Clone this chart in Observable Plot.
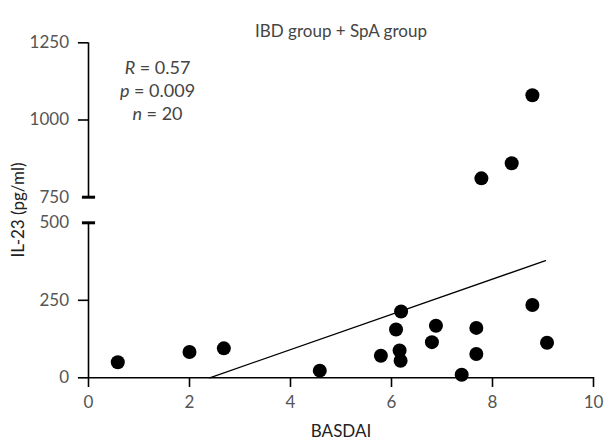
<!DOCTYPE html>
<html><head><meta charset="utf-8">
<script src="https://cdn.jsdelivr.net/npm/d3@7"></script>
<script src="https://cdn.jsdelivr.net/npm/@observablehq/plot@0.6"></script>
<style>body{margin:0;background:#fff;}</style>
</head><body><div id="chart"></div>
<script>
const basdai = [0.58, 2.0, 2.68, 4.58, 5.79, 6.09, 6.19, 6.16, 6.18, 6.80, 6.88, 7.39, 7.68, 7.68, 8.79, 9.08, 8.79, 8.38, 7.78];
const il23   = [50, 83, 95, 23, 71, 156, 214, 88, 55, 115, 168, 10, 161, 77, 235, 113, 1080, 860, 811];
const fitX = [2.4, 9.05];
const fitY = [0, 378];
const xTicks = [0, 2, 4, 6, 8, 10];
const yTicks = [0, 250, 500, 750, 1000, 1250];
const breakTicks = [500, 750];
const title = "IBD group + SpA group";
const xLabel = "BASDAI";
const yLabel = "IL-23 (pg/ml)";
const statNames = ["R", "p", "n"];
const statValues = ["0.57", "0.009", "20"];

const points = basdai.map((x, i) => ({x, y: il23[i]}));
const fit = fitX.map((x, i) => ({x, y: fitY[i]}));
const statLines = statNames.map((k, i) => `${k} = ${statValues[i]}`);

const FONT = "Lato, sans-serif";
const plot = Plot.plot({
  width: 606, height: 444,
  marginLeft: 88, marginRight: 13, marginTop: 42, marginBottom: 67,
  style: {fontFamily: FONT, fontSize: "17px", fontWeight: 400, color: "#333", background: "#fff"},
  x: {type: "linear", domain: [0, 10]},
  y: {type: "linear", domain: [0, 500, 750, 1250], range: [377.3, 222.3, 196.7, 42.3]},
  marks: [
    Plot.ruleY([0], {x1: 0, x2: 10, stroke: "#000", strokeWidth: 1.6}),
    Plot.ruleX([0], {y1: 0, y2: 500, stroke: "#000", strokeWidth: 1.6}),
    Plot.ruleX([0], {y1: 750, y2: 1250, stroke: "#000", strokeWidth: 1.6}),
    Plot.ruleY(yTicks.filter(t => !breakTicks.includes(t)), {x1: -0.2, x2: 0, stroke: "#000", strokeWidth: 1.6}),
    Plot.ruleY(breakTicks, {x1: -0.12, x2: 0.14, stroke: "#000", strokeWidth: 3}),
    Plot.axisX({ticks: xTicks, tickSize: 10, tickPadding: 8, label: null, stroke: "#000", strokeWidth: 1.6, fill: "#555", tickFormat: d => String(d)}),
    Plot.axisY({ticks: yTicks, tickSize: 0, tickPadding: 19.5, label: null, fill: "#555", tickFormat: d => String(d)}),
    Plot.line(fit, {x: "x", y: "y", stroke: "#000", strokeWidth: 1.3}),
    Plot.dot(points, {x: "x", y: "y", r: 7, fill: "#000", stroke: null}),
    Plot.text([title], {frameAnchor: "top", dy: -18, fontSize: 17, fill: "#444"}),
    Plot.text([xLabel], {frameAnchor: "bottom", dy: 59, fontSize: 17, fill: "#222"}),
    Plot.text([yLabel], {frameAnchor: "left", textAnchor: "middle", dx: -70, rotate: -90, fontSize: 17, fill: "#222"}),
    Plot.text([statLines.join("\n")], {frameAnchor: "top-left", textAnchor: "middle", lineAnchor: "top", dx: 69, dy: 15, lineHeight: 1.28, fontSize: 18, fill: "#444"})
  ]
});
document.getElementById("chart").appendChild(plot);
// italicize the statistic symbols
d3.select(plot).selectAll("tspan").each(function() {
  const s = this.textContent;
  const idx = statLines.indexOf(s);
  if (idx < 0) return;
  const el = d3.select(this);
  el.text("");
  el.append("tspan").attr("font-style", "italic").text(statNames[idx]);
  el.append("tspan").text(s.slice(statNames[idx].length));
});
</script>
</body></html>
